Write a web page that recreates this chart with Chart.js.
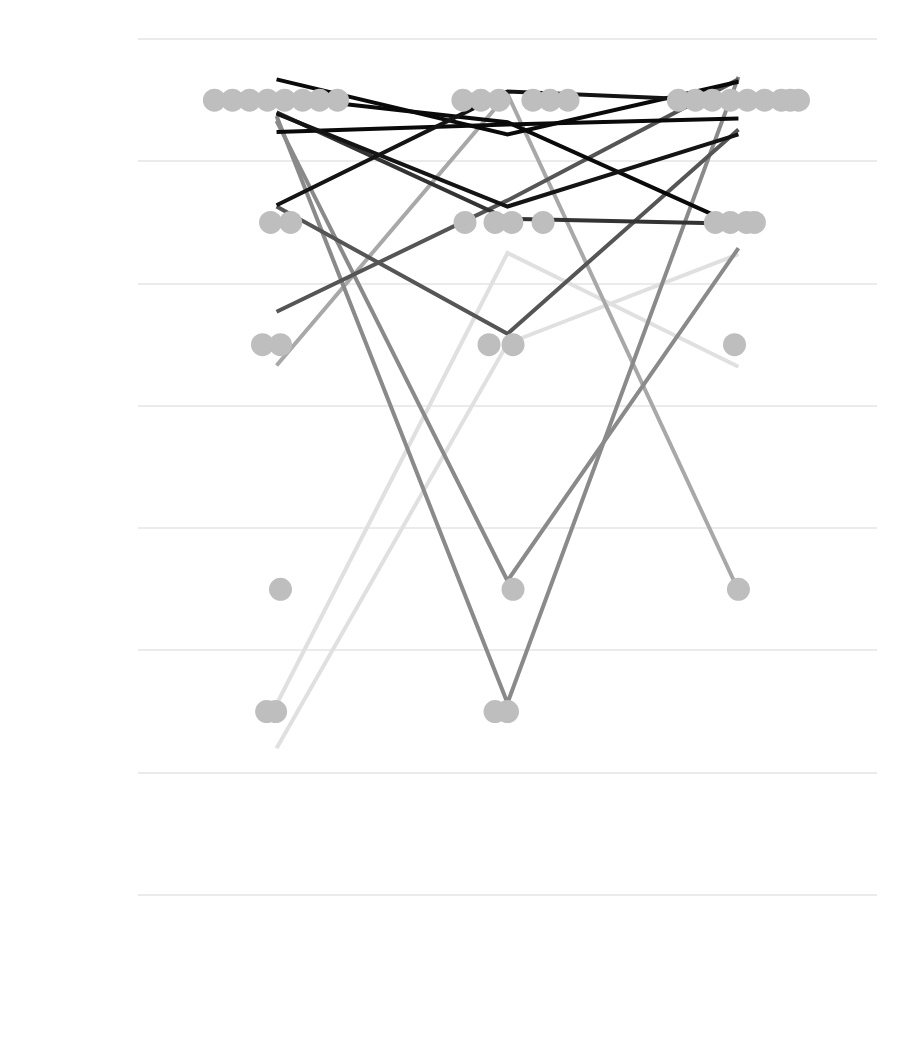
<!DOCTYPE html>
<html>
<head>
<meta charset="utf-8">
<script src="https://cdn.jsdelivr.net/npm/chart.js@4.4.0/dist/chart.umd.min.js"></script>
<style>
  html, body { margin: 0; padding: 0; background: #ffffff; }
  #wrap { width: 900px; height: 1050px; }
</style>
</head>
<body>
<div id="wrap"><canvas id="c" width="900" height="1050"></canvas></div>
<script>
// ---- DATA ----
// time points (x positions of the three columns)
const timePoints = [1, 2, 3];

// jittered line series, one per participant (values at time 1, 2, 3)
const s01 = [7.17, 6.72, 7.15];
const s02 = [7.03, 6.82, 5.97];
const s03 = [6.74, 6.80, 6.85];
const s04 = [6.14, 7.07, 6.99];
const s05 = [6.89, 6.13, 6.72];
const s06 = [6.90, 6.03, 5.99];
const s07 = [6.13, 5.09, 6.76];
const s08 = [5.27, 6.18, 7.17];
const s09 = [4.83, 7.05, 2.99];
const s10 = [6.87, 2.07, 7.19];
const s11 = [6.83, 3.07, 5.79];
const s12 = [2.06, 5.75, 4.82];
const s13 = [1.70, 5.01, 5.74];
const lineSeries = [s12, s13, s09, s10, s11, s07, s08, s06, s01, s02, s03, s04, s05];
const lineShades = ['#e0e0e0', '#e0e0e0', '#a8a8a8', '#8a8a8a', '#8a8a8a', '#555555', '#555555',
                    '#333333', '#0a0a0a', '#0a0a0a', '#0a0a0a', '#141414', '#141414'];

// swarm dots: response value and horizontal swarm offset per column
const dotValues1  = [7, 7, 7, 7, 7, 7, 7, 7, 6, 6, 5, 5, 3, 2, 2];
const dotOffsets1 = [-0.269, -0.191, -0.117, -0.039, 0.035, 0.113, 0.186, 0.264, -0.026, 0.061, -0.061, 0.017, 0.017, -0.043, -0.004];
const dotValues2  = [7, 7, 7, 7, 7, 7, 6, 6, 6, 6, 5, 5, 3, 2, 2];
const dotOffsets2 = [-0.193, -0.115, -0.037, 0.110, 0.184, 0.262, -0.184, -0.054, 0.019, 0.154, -0.080, 0.024, 0.024, -0.054, 0.000];
const dotValues3  = [7, 7, 7, 7, 7, 7, 7, 7, 7, 6, 6, 6, 6, 5, 3];
const dotOffsets3 = [-0.260, -0.186, -0.113, -0.035, 0.039, 0.113, 0.186, 0.225, 0.260, -0.100, -0.035, 0.035, 0.069, -0.017, 0.000];

// horizontal grid positions
const gridValues = [0.5, 1.5, 2.5, 3.5, 4.5, 5.5, 6.5, 7.5];

// ---- build datasets ----
const dotColumns = [
  [dotValues1, dotOffsets1],
  [dotValues2, dotOffsets2],
  [dotValues3, dotOffsets3]
];
const dotPoints = [];
dotColumns.forEach(([vals, offs], i) => {
  vals.forEach((v, j) => dotPoints.push({ x: timePoints[i] + offs[j], y: v }));
});

const datasets = [{
  type: 'scatter',
  data: dotPoints,
  order: 0,
  pointRadius: 11.5,
  pointHoverRadius: 11.5,
  pointBackgroundColor: '#bebebe',
  pointBorderWidth: 0,
  borderWidth: 0,
  showLine: false
}];

lineSeries.forEach((vals, i) => {
  datasets.push({
    type: 'scatter',
    data: vals.map((v, k) => ({ x: timePoints[k], y: v })),
    order: 100 - i,
    showLine: true,
    borderColor: lineShades[i],
    borderWidth: 4,
    pointRadius: 0,
    pointHoverRadius: 0,
    fill: false,
    tension: 0
  });
});

new Chart(document.getElementById('c'), {
  type: 'scatter',
  data: { datasets },
  options: {
    responsive: false,
    animation: false,
    events: [],
    layout: { padding: { top: 39, bottom: 155, left: 138, right: 23 } },
    plugins: { legend: { display: false }, tooltip: { enabled: false } },
    scales: {
      x: {
        type: 'linear',
        min: 0.4,
        max: 3.6,
        display: false
      },
      y: {
        type: 'linear',
        min: 0.5,
        max: 7.5,
        afterBuildTicks: (scale) => { scale.ticks = gridValues.map(v => ({ value: v })); },
        ticks: { display: false },
        border: { display: false },
        grid: { color: '#ebebeb', lineWidth: 2, drawTicks: false, tickLength: 0 }
      }
    }
  }
});
</script>
</body>
</html>
